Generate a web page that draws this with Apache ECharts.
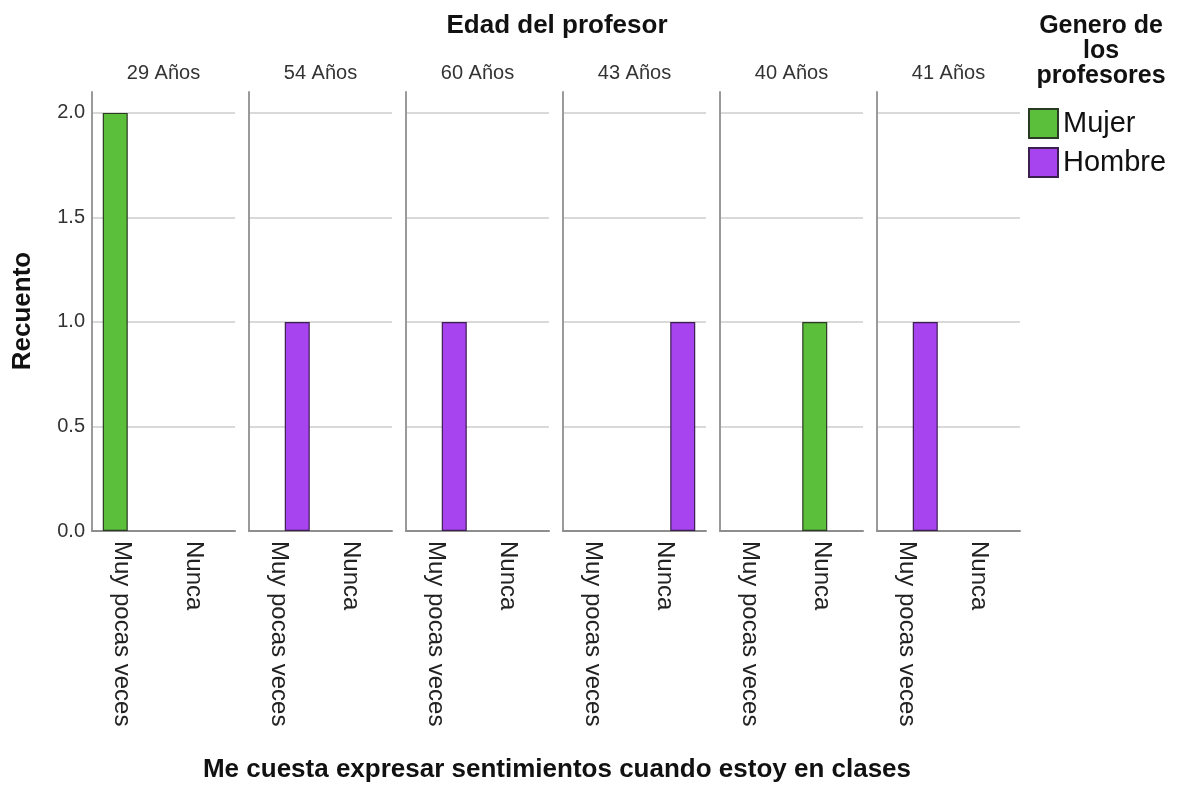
<!DOCTYPE html>
<html>
<head>
<meta charset="utf-8">
<script src="https://cdn.jsdelivr.net/npm/echarts@6/dist/echarts.min.js"></script>
<style>
html,body{margin:0;padding:0;background:#fff;}
#c{width:1177px;height:785px;}
</style>
</head>
<body>
<div id="c"></div>
<script>
const panelTitles = ['29 Años', '54 Años', '60 Años', '43 Años', '40 Años', '41 Años'];
const categories = ['Muy pocas veces', 'Nunca'];
const seriesNames = ['Mujer', 'Hombre'];
const mujerValues = [[2, 0], [0, 0], [0, 0], [0, 0], [0, 1], [0, 0]];
const hombreValues = [[0, 0], [1, 0], [1, 0], [0, 1], [0, 0], [1, 0]];
const yTickStep = 0.5;
const yMax = 2.1;

const FONT = "'Liberation Sans', Arial, sans-serif";
const colors = ['#5cbf3b', '#a744f0'];
const borders = ['#2b3a22', '#3a1f4f'];

const panelLeft0 = 92, panelStep = 157, panelWidth = 143;
const gridTop = 92, gridHeight = 439;

const grids = [], xAxes = [], yAxes = [], series = [], titles = [];
panelTitles.forEach((t, i) => {
  const left = panelLeft0 + i * panelStep;
  grids.push({left: left, top: gridTop, width: panelWidth, height: gridHeight, containLabel: false});
  xAxes.push({
    type: 'category', gridIndex: i, data: categories,
    axisLine: {show: true, lineStyle: {color: '#8e8e8e', width: 2}},
    axisTick: {show: false},
    axisLabel: {rotate: -90, margin: 10, fontSize: 24, color: '#222', fontFamily: FONT, interval: 0,
      verticalAlign: 'top', lineHeight: 12}
  });
  yAxes.push({
    type: 'value', gridIndex: i, min: 0, max: yMax, interval: yTickStep,
    axisLine: {show: true, onZero: false, lineStyle: {color: '#9a9a9a', width: 2}},
    axisTick: {show: false},
    axisLabel: {
      show: i === 0, fontSize: 20, color: '#333', fontFamily: FONT, margin: 7,
      showMaxLabel: false,
      formatter: v => (Math.abs(v / yTickStep - Math.round(v / yTickStep)) < 1e-6 ? v.toFixed(1) : '')
    },
    splitLine: {show: true, showMaxLine: false, lineStyle: {color: '#cdcdcd', width: 1.5}}
  });
  [mujerValues, hombreValues].forEach((vals, s) => {
    series.push({
      name: seriesNames[s], type: 'bar', xAxisIndex: i, yAxisIndex: i,
      barWidth: 25, barGap: '0%',
      itemStyle: {color: colors[s], borderColor: borders[s], borderWidth: 1.2},
      data: vals[i].map(v => (v === 0 ? '-' : v)),
      silent: true, animation: false
    });
  });
  titles.push({
    text: t, left: left + panelWidth / 2, top: 63, textAlign: 'center', padding: 0,
    textStyle: {fontSize: 20, fontWeight: 'normal', color: '#333', fontFamily: FONT}
  });
});

titles.push({
  text: 'Edad del profesor', left: 557, top: 13, textAlign: 'center', padding: 0,
  textStyle: {fontSize: 26, fontWeight: 'bold', color: '#111', fontFamily: FONT}
});
titles.push({
  text: 'Me cuesta expresar sentimientos cuando estoy en clases', left: 557, top: 757, textAlign: 'center', padding: 0,
  textStyle: {fontSize: 26, fontWeight: 'bold', color: '#111', fontFamily: FONT}
});
titles.push({
  text: 'Genero de\nlos\nprofesores', left: 1101, top: 14, textAlign: 'center', padding: 0,
  textStyle: {fontSize: 25, fontWeight: 'bold', color: '#111', fontFamily: FONT, lineHeight: 25}
});

const chart = echarts.init(document.getElementById('c'), null, {renderer: 'canvas'});
chart.setOption({
  animation: false,
  backgroundColor: '#fff',
  title: titles,
  legend: {
    data: seriesNames, orient: 'vertical', left: 1028, top: 108,
    itemWidth: 29, itemHeight: 29, itemGap: 8, icon: 'rect', padding: 0,
    textStyle: {fontSize: 29, color: '#111', fontFamily: FONT},
    selectedMode: false
  },
  grid: grids,
  xAxis: xAxes,
  yAxis: yAxes,
  series: series,
  graphic: [{
    type: 'text', x: 23, y: 311, rotation: Math.PI / 2,
    style: {text: 'Recuento', fontSize: 26, fontWeight: 'bold', fill: '#111', fontFamily: FONT,
      align: 'center', verticalAlign: 'middle'}
  }]
});
</script>
</body>
</html>
